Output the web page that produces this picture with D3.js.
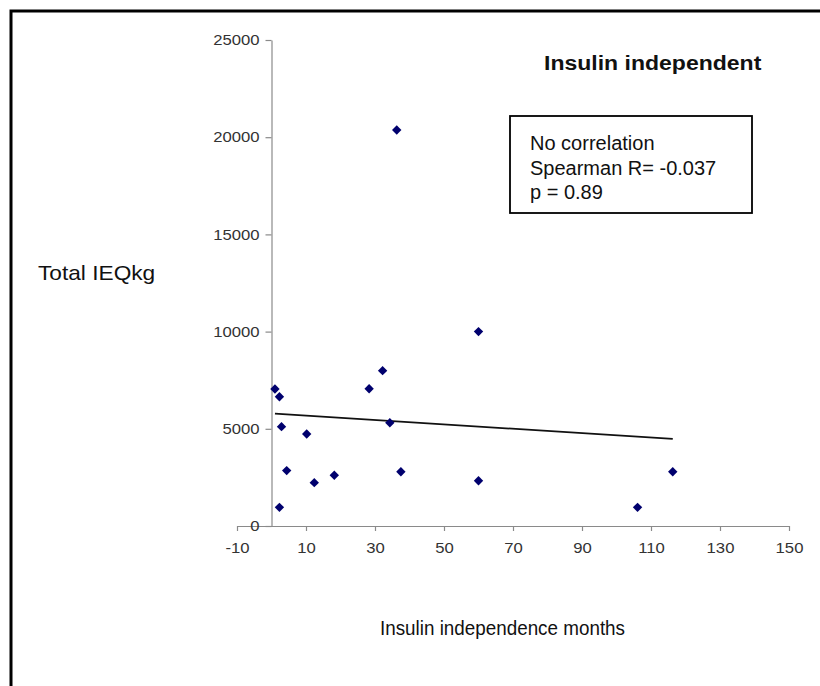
<!DOCTYPE html>
<html><head><meta charset="utf-8">
<script src="https://cdn.jsdelivr.net/npm/d3@7"></script>
<style>
html,body{margin:0;padding:0;background:#fff;}
svg{display:block;font-family:"Liberation Sans",Arial,sans-serif;}
</style></head>
<body><svg id="c" width="820" height="686"></svg>
<script>
// ---- data ----
const monthsX = [1.0, 2.3, 2.9, 2.3, 4.4, 10.2, 12.4, 18.2, 28.3, 32.2, 34.3, 36.3, 37.5, 60.0, 60.0, 106.1, 116.3];
const ieqY    = [7050, 6650, 5110, 960, 2850, 4730, 2230, 2610, 7060, 7990, 5310, 20370, 2790, 10000, 2330, 960, 2790];
const trendX  = [1, 116.3];
const trendY  = [5780, 4480];
const xTicks  = [-10, 10, 30, 50, 70, 90, 110, 130, 150];
const yTicks  = [0, 5000, 10000, 15000, 20000, 25000];
const titleText = "Insulin independent";
const statLines = ["No correlation", "Spearman R= -0.037", "p = 0.89"];
const xLabel = "Insulin independence months";
const yLabel = "Total IEQkg";

const svg = d3.select("#c");

// outer frame (extends beyond the right and bottom edges)
svg.append("rect").attr("x", 11).attr("y", 11).attr("width", 860).attr("height", 720)
  .attr("fill", "none").attr("stroke", "#000").attr("stroke-width", 3);

const x = d3.scaleLinear().domain([-10, 150]).range([237, 789]);
const y = d3.scaleLinear().domain([0, 25000]).range([526, 40]);

function stretch(sel, f) {
  sel.each(function () {
    const w = this.getComputedTextLength();
    d3.select(this).attr("textLength", w * f).attr("lengthAdjust", "spacingAndGlyphs");
  });
}

// x axis at y=0
const gx = svg.append("g").attr("transform", `translate(0,${y(0)})`)
  .call(d3.axisBottom(x).tickValues(xTicks).tickSizeInner(5).tickSizeOuter(0).tickPadding(12).tickFormat(d => String(d)));
// y axis at x=0
const gy = svg.append("g").attr("transform", `translate(${x(0)},0)`)
  .call(d3.axisLeft(y).tickValues(yTicks).tickSizeInner(6).tickSizeOuter(0).tickPadding(6).tickFormat(d => String(d)));

[gx, gy].forEach(g => {
  g.select(".domain").attr("stroke", "#8a8a8a").attr("stroke-width", 1.2);
  g.selectAll(".tick line").attr("stroke", "#8a8a8a").attr("stroke-width", 1.2);
  g.selectAll(".tick text").attr("fill", "#333").attr("font-size", 14.5)
    .attr("font-family", "'Liberation Sans',Arial,sans-serif");
  stretch(g.selectAll(".tick text"), 1.15);
});

// trend line
svg.append("path")
  .datum(trendX.map((d, i) => [d, trendY[i]]))
  .attr("d", d3.line().x(d => x(d[0])).y(d => y(d[1])))
  .attr("fill", "none").attr("stroke", "#111").attr("stroke-width", 1.7);

// points (diamonds)
const diamond = d3.symbol().type(d3.symbolSquare).size(44);
svg.append("g").selectAll("path")
  .data(monthsX.map((d, i) => [d, ieqY[i]]))
  .join("path")
  .attr("d", diamond)
  .attr("transform", d => `translate(${x(d[0])},${y(d[1])}) rotate(45)`)
  .attr("fill", "#00006e");

// title
const t = svg.append("text").attr("x", 544).attr("y", 70)
  .attr("font-size", 19.5).attr("font-weight", "bold").attr("fill", "#111").text(titleText);
stretch(t, 1.18);

// stats box
svg.append("rect").attr("x", 510).attr("y", 116).attr("width", 242).attr("height", 97)
  .attr("fill", "#fff").attr("stroke", "#000").attr("stroke-width", 1.8);
svg.append("g").selectAll("text").data(statLines).join("text")
  .attr("x", 530).attr("y", (d, i) => 150 + i * 24.5)
  .attr("font-size", 20).attr("fill", "#111").text(d => d);

// axis titles
const yl = svg.append("text").attr("x", 38).attr("y", 280).attr("font-size", 21).attr("fill", "#111").text(yLabel);
stretch(yl, 1.08);
const xl = svg.append("text").attr("x", 380).attr("y", 635).attr("font-size", 20).attr("fill", "#111").text(xLabel);
xl.attr("textLength", 245).attr("lengthAdjust", "spacingAndGlyphs");
</script></body></html>
